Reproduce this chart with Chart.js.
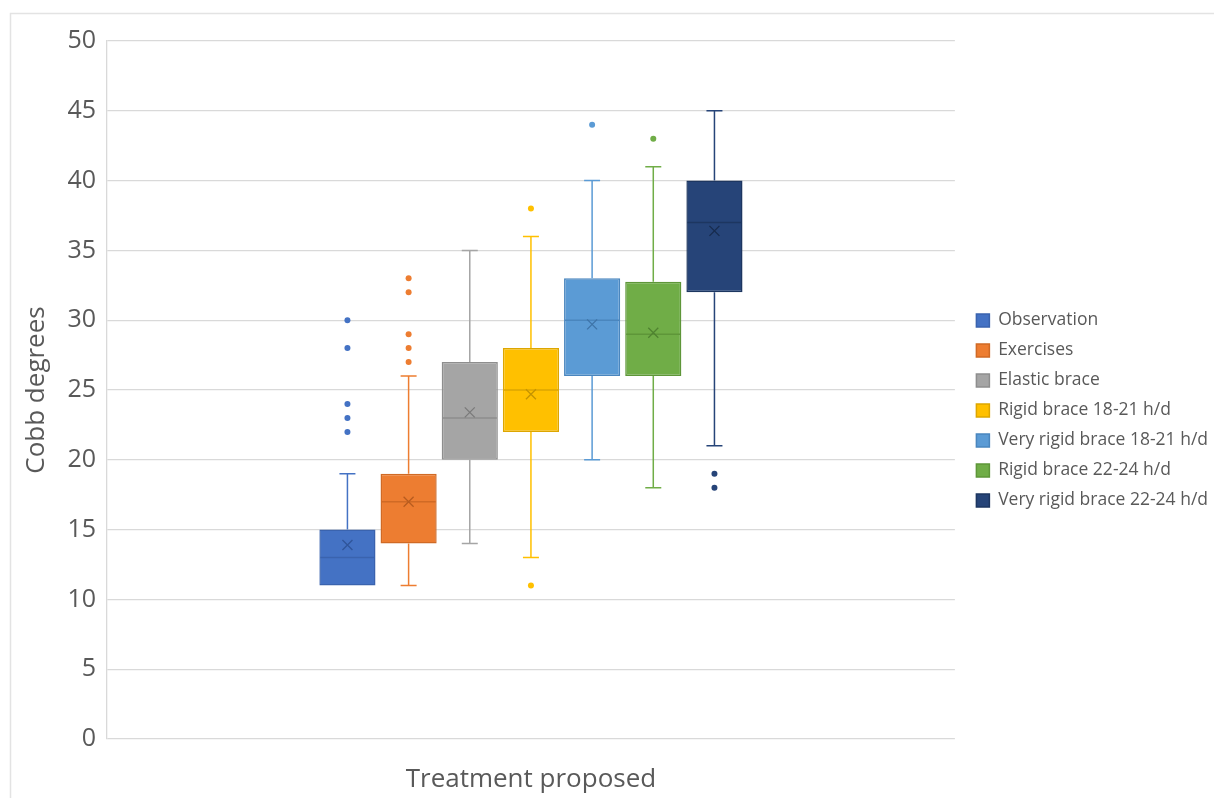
<!DOCTYPE html>
<html>
<head>
<meta charset="utf-8">
<title>Cobb degrees by treatment</title>
<script src="https://cdn.jsdelivr.net/npm/chart.js@4.4.1/dist/chart.umd.min.js"></script>
<style>
  body { margin: 0; background: #fff; }
  canvas { display: block; }
</style>
</head>
<body>
<canvas id="myChart" width="1214" height="798"></canvas>
<script>
// one box per treatment
const seriesNames = ['Observation', 'Exercises', 'Elastic brace', 'Rigid brace 18-21 h/d',
  'Very rigid brace 18-21 h/d', 'Rigid brace 22-24 h/d', 'Very rigid brace 22-24 h/d'];
const whiskerLow  = [11, 11, 14, 13, 20, 18, 21];
const q1          = [11, 14, 20, 22, 26, 26, 32];
const medians     = [13, 17, 23, 25, 30, 29, 37];
const q3          = [15, 19, 27, 28, 33, 32.75, 40];
const whiskerHigh = [19, 26, 35, 36, 40, 41, 45];
const means       = [13.9, 17, 23.4, 24.7, 29.7, 29.1, 36.4];
const outliers    = [[22, 23, 24, 28, 30], [27, 28, 29, 32, 33], [], [11, 38], [44], [43], [18, 19]];
const yMin = 0, yMax = 50, yStep = 5;

const fills   = ['#4472C4', '#ED7D31', '#A5A5A5', '#FFC000', '#5B9BD5', '#70AD47', '#264478'];
const borders = ['#3A63AE', '#D06A25', '#8E8E8E', '#DDA600', '#4A86BE', '#5E9639', '#1D3660'];
const marks   = ['#30559A', '#B85C1F', '#7A7A7A', '#C49300', '#3E74A8', '#4F8230', '#172B4D'];
const textColor = '#595959';
const gridColor = '#D9D9D9';

Chart.defaults.font.family = "'Open Sans', sans-serif";
Chart.defaults.color = textColor;

const ctx = document.getElementById('myChart');

// whiskers, median, mean and outliers drawn on top of the floating bars
const boxExtras = {
  id: 'boxExtras',
  beforeDraw(chart) {
    const c = chart.ctx;
    c.save();
    c.strokeStyle = '#E3E3E3';
    c.lineWidth = 1.5;
    c.beginPath();
    c.moveTo(10.5, 798); c.lineTo(10.5, 13.5); c.lineTo(1214, 13.5);
    c.stroke();
    c.restore();
  },
  afterLayout(chart) {
    const lg = chart.legend;
    lg.left += 9; lg.right += 9;
    lg.top -= 9; lg.bottom -= 9;
  },
  afterDatasetsDraw(chart) {
    const c = chart.ctx;
    const y = chart.scales.y;
    chart.data.datasets.forEach((ds, i) => {
      const bar = chart.getDatasetMeta(i).data[0];
      const x = bar.x;
      const half = bar.width / 2;
      const cap = 8;
      c.save();
      c.lineWidth = 1.5;
      c.strokeStyle = fills[i];
      c.beginPath();
      const yHi = y.getPixelForValue(whiskerHigh[i]);
      const yLo = y.getPixelForValue(whiskerLow[i]);
      if (whiskerHigh[i] > q3[i]) {
        c.moveTo(x, y.getPixelForValue(q3[i])); c.lineTo(x, yHi);
        c.moveTo(x - cap, yHi); c.lineTo(x + cap, yHi);
      }
      if (whiskerLow[i] < q1[i]) {
        c.moveTo(x, y.getPixelForValue(q1[i])); c.lineTo(x, yLo);
        c.moveTo(x - cap, yLo); c.lineTo(x + cap, yLo);
      }
      c.stroke();

      c.strokeStyle = borders[i];
      c.beginPath();
      const ym = y.getPixelForValue(medians[i]);
      c.moveTo(x - half + 1, ym); c.lineTo(x + half - 1, ym);
      c.stroke();

      c.strokeStyle = marks[i];
      c.lineWidth = 1.3;
      c.beginPath();
      const ya = y.getPixelForValue(means[i]);
      c.moveTo(x - 5, ya - 5); c.lineTo(x + 5, ya + 5);
      c.moveTo(x + 5, ya - 5); c.lineTo(x - 5, ya + 5);
      c.stroke();

      c.fillStyle = fills[i];
      outliers[i].forEach(v => {
        c.beginPath();
        c.arc(x, y.getPixelForValue(v), 3, 0, Math.PI * 2);
        c.fill();
      });
      c.restore();
    });
  }
};

const myChart = new Chart(ctx, {
  type: 'bar',
  data: {
    labels: [''],
    datasets: seriesNames.map((name, i) => ({
      label: name,
      data: [[q1[i], q3[i]]],
      backgroundColor: fills[i],
      borderColor: borders[i],
      borderWidth: 1.5,
      borderSkipped: false,
      categoryPercentage: 0.505,
      barPercentage: 0.918
    }))
  },
  options: {
    responsive: false,
    animation: false,
    layout: { padding: { top: 41, right: 5, bottom: 0, left: 0 } },
    plugins: {
      tooltip: { enabled: false },
      legend: {
        position: 'right',
        labels: {
          boxWidth: 13,
          boxHeight: 13,
          padding: 12.5,
          color: textColor,
          font: { size: 17.5 }
        }
      }
    },
    scales: {
      x: {
        grid: { display: false },
        border: { display: false },
        ticks: { display: false },
        title: {
          display: true,
          text: 'Treatment proposed',
          color: textColor,
          font: { size: 26 },
          padding: { top: 0, bottom: 3 }
        },
        afterFit(scale) { scale.height = 59; }
      },
      y: {
        min: yMin,
        max: yMax,
        ticks: { stepSize: yStep, padding: 11, color: textColor, font: { size: 25 } },
        grid: { color: gridColor, drawTicks: false, lineWidth: 1.3 },
        border: { color: gridColor, width: 1.3 },
        title: {
          display: true,
          text: 'Cobb degrees',
          color: textColor,
          font: { size: 26 },
          padding: { top: 21, bottom: 0 }
        },
        afterFit(scale) { scale.width = 107; }
      }
    }
  },
  plugins: [boxExtras]
});
</script>
</body>
</html>
